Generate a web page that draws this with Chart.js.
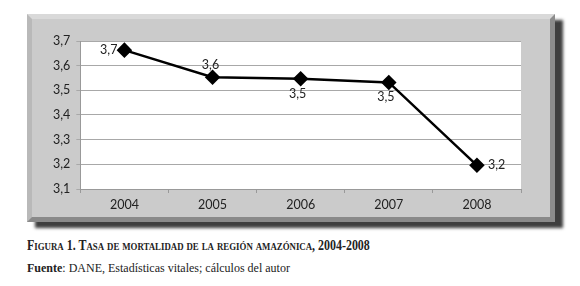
<!DOCTYPE html>
<html>
<head>
<meta charset="utf-8">
<script src="https://cdn.jsdelivr.net/npm/chart.js@4/dist/chart.umd.min.js"></script>
<style>
  body { margin: 0; background: #fff; width: 580px; height: 286px; overflow: hidden; position: relative; }
  #panel {
    position: absolute; left: 27px; top: 14px; width: 528px; height: 208px;
    box-sizing: border-box; background: #cbcbcb;
    border: 5px solid; border-color: #d9d9d9 #8c8c8c #8a8a8a #b9b9b9;
    box-shadow: 8px 6px 3px #3e3e3e;
  }
  #wrap { position: absolute; left: 0; top: 0; width: 518px; height: 201px; }
  .cap { position: absolute; left: 27px; font-family: "Liberation Serif", serif; color: #222; white-space: nowrap; }
  #title { top: 237px; font-size: 12.2px; font-weight: bold; font-variant: small-caps; transform: scale(0.98, 1.2); transform-origin: left top; }
  #src { top: 261px; font-size: 12px; }
</style>
</head>
<body>
<div id="panel"><div id="wrap"><canvas id="chart"></canvas></div></div>
<div class="cap" id="title">Figura 1. Tasa de mortalidad de la región amazónica, 2004-2008</div>
<div class="cap" id="src"><b>Fuente</b>: DANE, Estadísticas vitales; cálculos del autor</div>
<script>
const years = ['2004', '2005', '2006', '2007', '2008'];
const tasa = [3.663, 3.553, 3.547, 3.532, 3.196];
const labelSide = ['left', 'top', 'bottom', 'bottom', 'right'];

const fmt = v => v.toFixed(1).replace('.', ',');

// white plot area
const plotBg = {
    id: 'plotBg',
    beforeDraw(chart) {
        const a = chart.chartArea;
        chart.ctx.save();
        chart.ctx.fillStyle = '#fff';
        chart.ctx.fillRect(a.left, a.top, a.right - a.left, a.bottom - a.top);
        chart.ctx.restore();
    }
};

// value labels next to the markers
const valueLabels = {
    id: 'valueLabels',
    afterDatasetsDraw(chart) {
        const ctx = chart.ctx;
        const pts = chart.getDatasetMeta(0).data;
        ctx.save();
        ctx.font = '12.5px Lato, "Open Sans", sans-serif';
        ctx.fillStyle = '#222';
        pts.forEach((p, i) => {
            const txt = fmt(tasa[i]);
            let x = p.x, y = p.y;
            ctx.textAlign = 'center';
            ctx.textBaseline = 'middle';
            if (labelSide[i] === 'left') { ctx.textAlign = 'right'; x -= 7; }
            else if (labelSide[i] === 'right') { ctx.textAlign = 'left'; x += 11; }
            else if (labelSide[i] === 'top') { y -= 12; x -= 2; }
            else { y += 15; x -= 3; }
            ctx.fillText(txt, x, y);
        });
        ctx.restore();
    }
};

const tickFont = { family: 'Lato, "Open Sans", sans-serif', size: 12.5 };

new Chart(document.getElementById('chart'), {
    type: 'line',
    data: {
        labels: years,
        datasets: [{
            data: tasa,
            borderColor: '#000',
            borderWidth: 2.5,
            backgroundColor: '#000',
            pointStyle: 'rectRot',
            pointRadius: 6,
            pointBackgroundColor: '#000',
            pointBorderColor: '#000',
            tension: 0
        }]
    },
    options: {
        responsive: true,
        maintainAspectRatio: false,
        animation: false,
        layout: { padding: { top: 22, right: 29, bottom: 4, left: 15 } },
        plugins: { legend: { display: false }, tooltip: { enabled: false } },
        scales: {
            x: {
                offset: true,
                grid: { drawOnChartArea: false, offset: true, tickLength: 4, color: '#999' },
                border: { color: '#999' },
                ticks: { color: '#222', font: tickFont, padding: 4 }
            },
            y: {
                min: 3.1,
                max: 3.7,
                grid: { color: '#a8a8a8', tickLength: 4 },
                border: { color: '#999' },
                ticks: {
                    stepSize: 0.1,
                    color: '#222',
                    font: tickFont,
                    padding: 6,
                    callback: v => fmt(v)
                }
            }
        }
    },
    plugins: [plotBg, valueLabels]
});
</script>
</body>
</html>
